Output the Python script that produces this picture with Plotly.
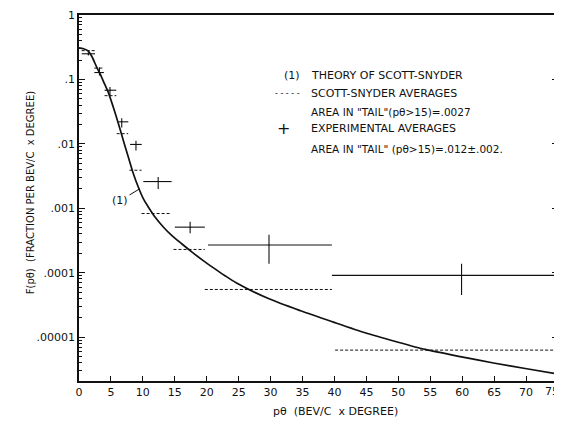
import plotly.graph_objects as go

# Theory curve (Scott-Snyder)
curve_x = [0, 0.7, 1.46, 2.0, 2.77, 3.29, 4.0, 4.59, 5.4, 6.15, 6.94, 7.72, 8.5, 9.28, 10.07, 10.85,
           11.9, 13.2, 14.51, 16.08, 17.65, 19.5, 21.29, 22.86, 24.6, 29.75, 34.7, 39.7, 44.8, 49.7,
           54.2, 59.9, 64.9, 70.1, 75]
curve_y = [0.309, 0.299, 0.275, 0.229, 0.155, 0.123, 0.0851, 0.0631, 0.0363, 0.0209, 0.01132, 0.00624,
           0.00347, 0.00214, 0.00141, 0.00105, 0.000733, 0.000513, 0.000380, 0.000282, 0.000211,
           0.000153, 0.000115, 9.0e-5, 7.0e-5, 3.94e-5, 2.57e-5, 1.73e-5, 1.17e-5, 8.5e-6,
           6.46e-6, 4.95e-6, 3.98e-6, 3.24e-6, 2.67e-6]

# Experimental averages: bin edges, value, error range
exp_lo = [0.42, 2.4, 4.0, 6.15, 7.99, 10.07, 15.0, 20.2, 39.6]
exp_hi = [2.5, 3.9, 5.84, 7.72, 9.82, 14.5, 19.7, 39.6, 74.8]
exp_x = [1.46, 3.2, 4.85, 6.69, 8.92, 12.4, 17.4, 29.75, 59.9]
exp_y = [0.25, 0.128, 0.068, 0.022, 0.0098, 0.0026, 0.00051, 0.00027, 0.000091]
exp_y_hi = [0.265, 0.155, 0.076, 0.025, 0.0112, 0.00305, 0.00062, 0.00039, 0.000138]
exp_y_lo = [0.236, 0.115, 0.057, 0.018, 0.0079, 0.0020, 0.00041, 0.000138, 0.000045]

# Scott-Snyder averages (dashed), bin edges and value
ss_lo = [0.42, 2.4, 4.0, 5.9, 7.9, 9.8, 14.8, 19.7, 40.1]
ss_hi = [2.5, 3.9, 5.84, 7.7, 9.8, 14.25, 19.7, 39.6, 74.8]
ss_y = [0.28, 0.15, 0.056, 0.0144, 0.0039, 0.00083, 0.00023, 5.5e-5, 6.3e-6]

x_ticks = [0, 5, 10, 15, 20, 25, 30, 35, 40, 45, 50, 55, 60, 65, 70, 75]
y_ticks = [1, 0.1, 0.01, 0.001, 0.0001, 0.00001]
y_tick_text = ["1", ".1", ".01", ".001", ".0001", ".00001"]

FONT = "DejaVu Sans"
INK = "#111111"

fig = go.Figure()

fig.add_trace(go.Scatter(x=curve_x, y=curve_y, mode="lines",
                         line=dict(color=INK, width=1.7, shape="spline", smoothing=0.7),
                         showlegend=False, hoverinfo="skip"))

ssx, ssy = [], []
for lo, hi, v in zip(ss_lo, ss_hi, ss_y):
    ssx += [lo, hi, None]
    ssy += [v, v, None]
fig.add_trace(go.Scatter(x=ssx, y=ssy, mode="lines", line=dict(color=INK, width=1, dash="3px,2px"),
                         showlegend=False, hoverinfo="skip"))

fig.add_trace(go.Scatter(
    x=exp_x, y=exp_y, mode="markers", marker=dict(size=1, color=INK), showlegend=False,
    error_x=dict(type="data", symmetric=False,
                 array=[h - x for h, x in zip(exp_hi, exp_x)],
                 arrayminus=[x - l for l, x in zip(exp_lo, exp_x)],
                 color=INK, thickness=1.1, width=0),
    error_y=dict(type="data", symmetric=False,
                 array=[h - y for h, y in zip(exp_y_hi, exp_y)],
                 arrayminus=[y - l for l, y in zip(exp_y_lo, exp_y)],
                 color=INK, thickness=1.1, width=0),
))

minor_vals = []
for e in range(-6, 0):
    for m in range(2, 10):
        minor_vals.append(m * 10 ** e)

fig.update_xaxes(range=[0, 75], tickvals=x_ticks[:-1], ticks="inside", ticklen=5, tickcolor=INK,
                 showline=True, linecolor=INK, linewidth=1.5, mirror=True, showgrid=False, zeroline=False,
                 tickfont=dict(family=FONT, size=11, color=INK))
fig.update_yaxes(type="log", range=[-5.68, 0], tickvals=y_ticks, ticktext=y_tick_text,
                 ticks="inside", ticklen=6, tickcolor=INK,
                 minor=dict(tickvals=minor_vals, ticks="inside", ticklen=3, tickcolor=INK),
                 showline=True, linecolor=INK, linewidth=1.5, mirror="allticks", showgrid=False, zeroline=False,
                 tickfont=dict(family=FONT, size=11, color=INK))

# page-pixel -> paper coordinates (plot area spans x 79..558, y 14.5..381 in the page)
def px2paper(px, py):
    return (px - 79) / 479, (381 - py) / 366.5

anns = []
def txt(px, py, s, size=11, xanchor="left"):
    x, y = px2paper(px, py)
    anns.append(dict(x=x, y=y, xref="paper", yref="paper", text=s, showarrow=False,
                     xanchor=xanchor, yanchor="middle", font=dict(family=FONT, size=size, color=INK)))

txt(282, 75, "(1)")
txt(309, 75, "THEORY OF SCOTT-SNYDER")
txt(273, 92.7, "- - - - -", size=8)
txt(309, 92.7, "SCOTT-SNYDER AVERAGES")
txt(309, 111.7, "AREA IN \"TAIL\"(pθ>15)=.0027", size=10.5)
txt(275, 128.3, "+", size=16)
txt(309, 128.3, "EXPERIMENTAL AVERAGES")
txt(309, 148.3, "AREA IN \"TAIL\" (pθ>15)=.012±.002.", size=10.5)

# the last x tick label sits at the very edge of the window: keep it just inside
anns.append(dict(x=x_ticks[-1], y=(381 - 392) / 366.5, xref="x", yref="paper", text=str(x_ticks[-1]),
                 showarrow=False, xanchor="right", xshift=3, yanchor="middle",
                 font=dict(family=FONT, size=11, color=INK)))

# (1) label with arrow pointing at the curve
anns.append(dict(x=9.55, y=-2.695, xref="x", yref="y", text="(1)", showarrow=True, arrowhead=0,
                 arrowwidth=1, arrowcolor=INK, ax=-20, ay=12, font=dict(family=FONT, size=11, color=INK)))

x, y = px2paper(30, 193)
anns.append(dict(x=x, y=y, xref="paper", yref="paper", text="F(pθ)  (FRACTION PER BEV/C  x DEGREE)",
                 textangle=-90, showarrow=False, xanchor="center", yanchor="middle",
                 font=dict(family=FONT, size=10, color=INK)))
x, y = px2paper(335, 412)
anns.append(dict(x=x, y=y, xref="paper", yref="paper", text="pθ  (BEV/C  x DEGREE)",
                 showarrow=False, xanchor="center", yanchor="middle",
                 font=dict(family=FONT, size=11, color=INK)))

# the page body has an 8px margin; sizes compensate so the plot lands where the reference has it
fig.update_layout(width=554, height=411, margin=dict(l=71, r=4, t=6.5, b=38, autoexpand=False),
                  paper_bgcolor="white", plot_bgcolor="white", annotations=anns,
                  font=dict(family=FONT, color=INK))

fig.write_html("out.html")
